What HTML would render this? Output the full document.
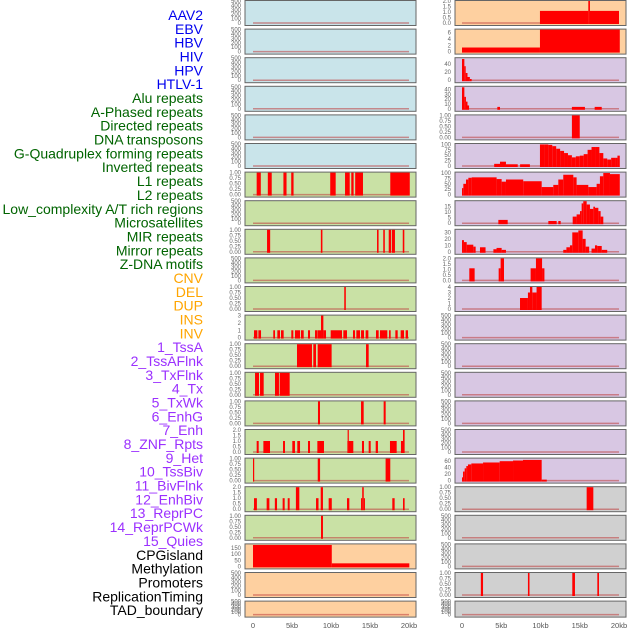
<!DOCTYPE html>
<html><head><meta charset="utf-8"><style>
body{margin:0;background:#fff;width:630px;height:630px;overflow:hidden}
svg{display:block;font-family:"Liberation Sans",sans-serif}
</style></head><body>
<svg id="c" width="630" height="630"></svg>
<script>
const labels=["AAV2","EBV","HBV","HIV","HPV","HTLV-1","Alu repeats","A-Phased repeats","Directed repeats","DNA transposons","G-Quadruplex forming repeats","Inverted repeats","L1 repeats","L2 repeats","Low_complexity A/T rich regions","Microsatellites","MIR repeats","Mirror repeats","Z-DNA motifs","CNV","DEL","DUP","INS","INV","1_TssA","2_TssAFlnk","3_TxFlnk","4_Tx","5_TxWk","6_EnhG","7_Enh","8_ZNF_Rpts","9_Het","10_TssBiv","11_BivFlnk","12_EnhBiv","13_ReprPC","14_ReprPCWk","15_Quies","CPGisland","Methylation","Promoters","ReplicationTiming","TAD_boundary"];
const labelColors=[6,"#0000ee",13,"#006400",5,"#ffa500",15,"#9b30ff",5,"#000"];
const xTicks=[0,5,10,15,20];
const xTickLabels=["0","5kb","10kb","15kb","20kb"];
// series: [startKb,endKb,value]
const L7=[[0.47,1.0,1],[1.9,2.4,1],[3.9,4.3,1],[4.9,5.2,1],[9.9,10.6,1],[11.8,12.4,1],[12.6,12.9,1],[13.1,14.1,1],[17.6,20.1,1]];
const L9=[[1.8,2.2,1],[8.7,8.9,1],[15.9,16.1,1],[16.7,16.9,1],[17.4,17.7,1],[17.8,18.2,1],[19.2,19.4,1]];
const L11=[[11.7,11.9,1]];
const L12=[[0.13,0.56,1],[0.69,1.03,1],[2.6,2.82,1],[3.12,3.46,1],[3.59,3.93,1],[4.91,5.17,1],[5.38,6.03,1],[6.15,6.5,1],[7.05,7.31,1],[7.95,8.25,1],[8.29,8.72,1],[8.72,9.02,3],[9.02,9.36,1],[9.96,11.41,1],[11.58,12.05,1],[12.82,13.08,1],[13.25,13.72,1],[13.85,14.23,1],[14.44,14.79,1],[15.77,16.11,1],[16.28,17.22,1],[17.44,17.65,1],[18.25,18.55,1],[18.93,19.36,1],[19.57,19.87,1]];
const L13=[[5.64,7.56,1],[7.73,8.08,1],[8.29,10.08,1],[14.49,14.83,1]];
const L14=[[0.26,0.77,1],[0.9,1.37,1],[2.82,3.33,1],[3.42,4.7,1]];
const L15=[[8.33,8.59,1],[13.85,14.19,1],[16.75,17.01,1]];
const L16=[[0.47,0.73,1],[1.33,2.18,1],[3.85,4.1,1],[5.04,5.38,1],[5.68,6.03,1],[7.05,7.31,1],[8.25,9.1,1],[12.1,12.13,1],[12.13,12.26,2],[12.26,12.86,1],[13.97,14.23,1],[14.83,15.09,1],[15.73,16.02,1],[17.56,18.42,1],[18.97,19.23,1],[19.23,19.44,2]];
const L17=[[0,0.13,1],[8.3,8.6,1],[17.0,17.6,1]];
const L18=[[0.13,0.5,1],[1.75,2.1,1],[2.8,3.08,1],[3.8,4.06,1],[4.45,4.7,1],[5.5,5.94,2],[8.08,8.4,1],[8.68,8.97,2],[9.7,10.1,1],[12.05,12.35,1],[13.85,14.0,1],[14.0,14.2,2],[14.2,14.3,1],[17.86,18.16,1],[19.23,19.44,1]];
const L19=[[8.72,8.97,1]];
const L20=[[0,10.1,175],[10.1,20.04,25]];
const R1=[[9.93,16.09,1.1],[16.09,16.3,2],[16.3,20.0,1.1]];
const R2=[[0,9.93,1.3],[9.93,20.1,7]];
const R3=[[0,0.3,53],[0.3,0.47,35],[0.47,0.7,18],[0.7,1.0,8],[1.0,1.23,3]];
const R4=[[0,0.3,45],[0.3,0.5,25],[0.5,0.7,15],[0.7,0.9,7],[4.5,4.84,4],[14.0,15.66,4],[16.9,17.8,4]];
const R5=[[14.0,15.0,1]];
const R6=[[4.1,4.84,10],[4.84,5.6,20],[5.6,7.1,8],[7.4,8.65,8],[9.93,10.5,100],[10.5,11,100],[11,11.5,98],[11.5,12,92],[12,12.5,80],[12.5,13,70],[13,13.5,60],[13.5,14,50],[14,14.5,40],[14.5,15,45],[15,15.5,48],[15.5,16,55],[16,16.5,75],[16.5,17,88],[17,17.5,88],[17.5,18,60],[18,18.5,35],[18.5,19,30],[19,19.5,38],[19.5,19.8,38],[19.8,20.1,48]];
const R7=[[0,0.17,30],[0.17,0.51,50],[0.51,0.81,70],[0.81,1.23,78],[1.23,4.41,80],[4.41,5.05,72],[5.05,5.6,60],[5.6,7.8,70],[7.8,10.15,62],[10.15,11.63,35],[11.63,12.27,45],[12.27,12.9,70],[12.9,14.18,92],[14.18,14.6,80],[14.6,16.09,45],[16.09,17.15,35],[17.15,17.57,50],[17.57,18.0,85],[18.0,18.85,100],[18.85,20.1,95]];
const R8=[[4.63,5.82,3],[11.0,12.06,2],[12.27,12.57,2],[14.1,14.6,6],[14.6,15.03,8],[15.03,15.24,11],[15.24,15.45,18],[15.45,15.88,20],[15.88,16.3,17],[16.3,16.73,13],[16.73,16.94,15],[16.94,17.37,14],[17.37,17.66,11],[17.66,18.0,6]];
const R9=[[0,0.25,18],[0.25,0.6,15],[0.6,1.44,11],[1.44,1.74,8],[2.29,3.0,7],[4.0,4.4,4],[4.4,5.05,6],[5.05,5.6,3],[12.9,13.3,3],[13.3,13.75,7],[13.75,14.05,10],[14.05,14.82,30],[14.82,15.37,33],[15.37,15.75,20],[15.75,16.2,8],[16.5,16.94,5],[16.94,17.22,10],[17.22,17.8,9],[17.8,18.5,3]];
const R10=[[0.93,1.61,1.1],[4.67,4.92,1.1],[4.92,5.35,2],[8.74,9.42,1.1],[9.42,10.2,2],[10.2,10.5,1.1]];
const R11=[[7.39,8.4,2],[8.4,8.66,3],[8.66,8.96,4],[8.96,9.5,3],[9.5,10.15,4]];
const R17=[[0,0.13,10],[0.13,0.34,28],[0.34,0.55,38],[0.55,0.76,45],[0.76,1.19,50],[1.19,2.68,53],[2.68,4.8,56],[4.8,6.5,60],[6.5,7.77,62],[7.77,10.15,64],[10.15,10.8,3]];
const R18=[[15.88,16.73,1]];
const R21=[[2.4,2.68,1],[8.4,8.6,1],[14.05,14.39,1],[17.24,17.45,1]];

const E=[];
const T500={max:500,ticks:[0,100,200,300,400,500],fmt:0};
const T1={max:1.0,ticks:[0,0.25,0.5,0.75,1],fmt:2};
const T2={max:2.0,ticks:[0,0.5,1,1.5,2],fmt:1};
const leftBg=["#c9e4ea","#c9e4ea","#c9e4ea","#c9e4ea","#c9e4ea","#c9e4ea","#c9e1a5","#c9e1a5","#c9e1a5","#c9e1a5","#c9e1a5","#c9e1a5","#c9e1a5","#c9e1a5","#c9e1a5","#c9e1a5","#c9e1a5","#c9e1a5","#c9e1a5","#fed0a0","#fed0a0","#fed0a0"];
const rightBg=["#fed0a0","#fed0a0"].concat(Array(15).fill("#d8c7e3"),Array(5).fill("#d0d0d0"));
const leftSeries=[E,E,E,E,E,E,L7,E,L9,E,L11,L12,L13,L14,L15,L16,L17,L18,L19,L20,E,E];
const leftAxes=[T500,T500,T500,T500,T500,T500,T1,T500,T1,T500,T1,{max:3,ticks:[0,1,2,3],fmt:0},T1,T1,T1,T2,T1,T2,T1,{max:180,ticks:[0,50,100,150],fmt:0},T500,T500];
const rightSeries=[R1,R2,R3,R4,R5,R6,R7,R8,R9,R10,R11,E,E,E,E,E,R17,R18,E,E,R21,E];
const rightAxes=[T2,{max:7,ticks:[0,2,4,6],fmt:0},{max:55,ticks:[0,20,40],fmt:0},{max:46,ticks:[0,10,20,30,40],fmt:0},T1,{max:102,ticks:[0,25,50,75,100],fmt:0},{max:102,ticks:[0,25,50,75,100],fmt:0},{max:20,ticks:[0,5,10,15],fmt:0},{max:34,ticks:[0,10,20,30],fmt:0},T2,{max:4,ticks:[0,1,2,3,4],fmt:0},T500,T500,T500,T500,T500,{max:68,ticks:[0,20,40,60],fmt:0},T1,T500,T500,T1,T500];

const NS="http://www.w3.org/2000/svg";
const svg=document.getElementById('c');
function mk(tag,attrs,parent){const e=document.createElementNS(NS,tag);for(const k in attrs)e.setAttribute(k,attrs[k]);(parent||svg).appendChild(e);return e;}

let li=0;
for(let g=0;g<labelColors.length;g+=2){
  for(let k=0;k<labelColors[g];k++){
    const t=mk('text',{x:203,y:20+li*13.84,'text-anchor':'end','font-size':14,fill:labelColors[g+1]});
    t.textContent=labels[li];
    
    
    li++;
  }
}

function panel(col,i,bg,ax,segs){
  const x0=col?455:245, x1=col?626:416;
  const top=i*28.6, h=(i==21)?16:25, bot=top+h;
  const xs=kb=>col?462+kb*7.85:253+kb*7.8;
  const ys=v=>bot-2-(v/ax.max)*(h-3);
  const g=mk('g',{});
  
  
  mk('rect',{x:x0,y:top+0.5,width:x1-x0,height:h,fill:bg,stroke:'#666','stroke-width':1},g);
  mk('line',{x1:xs(0),x2:xs(20),y1:ys(0),y2:ys(0),stroke:'rgba(190,60,60,0.55)','stroke-width':1.5},g);
  segs.forEach(s=>{
    const r=mk('rect',{x:xs(s[0]),y:ys(s[2]),width:Math.max(1.2,xs(s[1])-xs(s[0])),height:ys(0)-ys(s[2])+1,fill:'#ff0000'},g);
    
    
  });
  ax.ticks.forEach(v=>{
    const t=mk('text',{x:x0-4,y:ys(v)+2,'text-anchor':'end','font-size':6,fill:'#666'},g);
    t.textContent=v.toFixed(ax.fmt);
  });
}
for(let i=0;i<22;i++){panel(0,i,leftBg[i],leftAxes[i],leftSeries[i]);panel(1,i,rightBg[i],rightAxes[i],rightSeries[i]);}
[0,1].forEach(col=>{
  xTicks.forEach((v,j)=>{
    const t=mk('text',{x:col?462+v*7.85:253+v*7.8,y:628,'text-anchor':'middle','font-size':7.5,fill:'#555'});
    t.textContent=xTickLabels[j];
    
    
  });
});
</script>
</body></html>
